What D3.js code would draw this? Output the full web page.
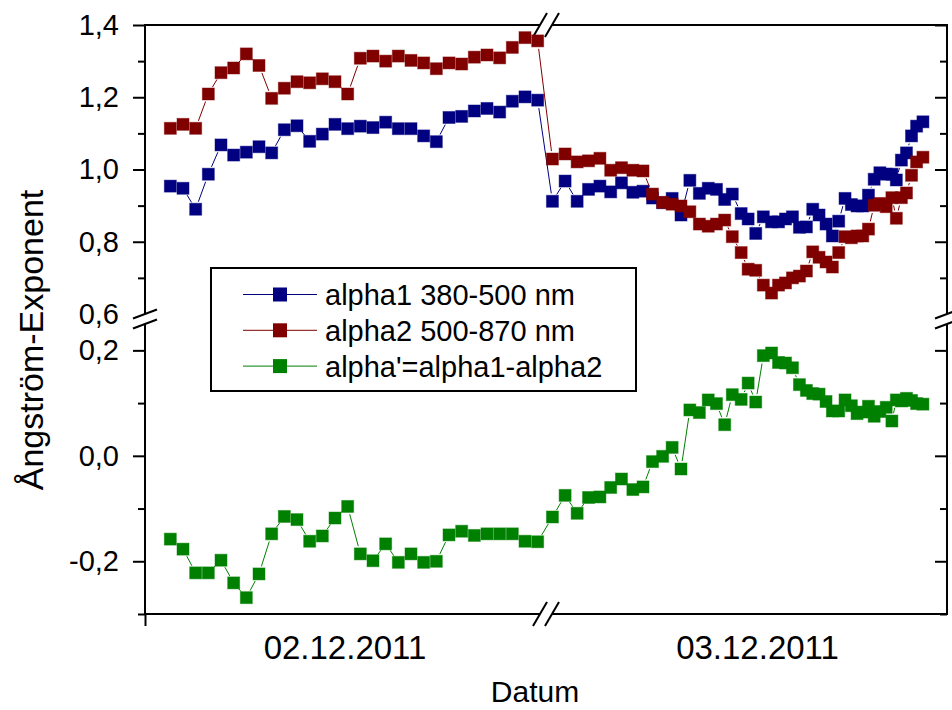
<!DOCTYPE html>
<html>
<head>
<meta charset="utf-8">
<script src="https://cdn.jsdelivr.net/npm/d3@7"></script>
<style>
  body { margin: 0; background: #fff; }
  text { font-family: "Liberation Sans", Arial, sans-serif; fill: #000; }
</style>
</head>
<body>
<svg id="chart" width="952" height="710"></svg>
<script>
// ---- data -------------------------------------------------------------
const dayLabels = ["02.12.2011", "03.12.2011"];
const legendLabels = ["alpha1 380-500 nm", "alpha2 500-870 nm", "alpha'=alpha1-alpha2"];
const xTitle = "Datum";
const yTitle = "Ångström-Exponent";

// measurement times (UTC, H:MM)
const timesDay1 = ["7:25","7:45","8:05","8:25","8:45","9:05","9:25","9:45","10:05","10:25",
  "10:45","11:05","11:25","11:45","12:05","12:25","12:45","13:05","13:25","13:45",
  "14:05","14:25","14:45","15:05","15:25","15:45","16:05","16:25","16:45","17:05"];
const timesDay2 = ["6:37","6:57","7:16","7:34","7:52","8:09","8:26","8:44","9:00","9:15",
  "9:31","9:46","10:00","10:14","10:29","10:43","10:56","11:09","11:21","11:35",
  "11:46","11:58","12:10","12:23","12:34","12:45","12:56","13:07","13:18","13:28",
  "13:38","13:49","13:59","14:09","14:19","14:29","14:38","14:47","14:56","15:05",
  "15:14","15:24","15:33","15:40","15:48","15:56","16:04","16:12","16:22"];

const alpha1Day1 = [0.954,0.948,0.890,0.987,1.068,1.040,1.048,1.063,1.046,1.110,
  1.121,1.078,1.098,1.125,1.113,1.120,1.116,1.131,1.113,1.113,
  1.093,1.077,1.144,1.147,1.162,1.169,1.159,1.189,1.201,1.192];
const alpha2Day1 = [1.114,1.125,1.114,1.209,1.268,1.281,1.320,1.288,1.197,1.225,
  1.243,1.240,1.251,1.243,1.209,1.308,1.314,1.300,1.314,1.302,
  1.295,1.279,1.295,1.292,1.311,1.317,1.309,1.338,1.365,1.356];
const alphaDiffDay1 = [-0.158,-0.177,-0.222,-0.222,-0.198,-0.241,-0.269,-0.224,-0.148,-0.115,
  -0.121,-0.162,-0.152,-0.118,-0.096,-0.186,-0.199,-0.167,-0.202,-0.186,
  -0.202,-0.200,-0.150,-0.143,-0.151,-0.148,-0.148,-0.148,-0.162,-0.163];

const alpha1Day2 = [0.912,0.968,0.912,0.945,0.954,0.938,0.963,0.937,0.940,0.921,
  0.908,0.920,0.874,0.970,0.934,0.948,0.945,0.917,0.932,0.878,
  0.863,0.823,0.869,0.855,0.855,0.863,0.869,0.840,0.841,0.890,
  0.874,0.849,0.816,0.857,0.920,0.903,0.899,0.899,0.929,0.973,
  0.991,0.987,0.987,0.971,1.026,1.046,1.093,1.120,1.132];
const alpha2Day2 = [1.029,1.043,1.021,1.024,1.031,0.998,1.005,0.998,0.996,0.932,
  0.909,0.904,0.899,0.883,0.849,0.843,0.849,0.860,0.814,0.770,
  0.724,0.721,0.680,0.658,0.680,0.686,0.700,0.705,0.719,0.772,
  0.757,0.744,0.730,0.770,0.814,0.811,0.816,0.816,0.835,0.901,
  0.906,0.897,0.922,0.865,0.922,0.935,0.984,1.021,1.034];
const alphaDiffDay2 = [-0.116,-0.075,-0.109,-0.079,-0.078,-0.060,-0.044,-0.064,-0.059,-0.011,
  -0.001,0.016,-0.025,0.087,0.082,0.106,0.099,0.059,0.116,0.107,
  0.138,0.102,0.190,0.195,0.177,0.176,0.167,0.135,0.124,0.118,
  0.117,0.103,0.085,0.085,0.106,0.095,0.080,0.083,0.094,0.075,
  0.084,0.092,0.066,0.106,0.104,0.109,0.105,0.099,0.098];

const upperMajorTicks = [0.6, 0.8, 1.0, 1.2, 1.4];
const upperMinorTicks = [0.7, 0.9, 1.1, 1.3];
const lowerMajorTicks = [-0.2, 0.0, 0.2];
const lowerMinorTicks = [-0.3, -0.1, 0.1];
const dayLabelHour = 12;

// ---- layout -------------------------------------------------------------
const svg = d3.select("#chart");
svg.append("rect").attr("width", 952).attr("height", 710).attr("fill", "#fff");

const parseHours = s => { const [h, m] = s.split(":").map(Number); return h + m / 60; };
const fmtTick = v => (v < 0 ? "-" : "") + Math.abs(v).toFixed(1).replace(".", ",");

// broken time axis: one linear piece per day
const xDay = [
  d3.scaleLinear().domain([6.75, 17.25]).range([145, 544]),
  d3.scaleLinear().domain([6.5, 17.0]).range([548, 947])
];
// broken value axis: upper piece for alpha1/alpha2, lower piece for the difference
const yUpper = d3.scaleLinear().domain([0.6, 1.4]).range([314, 25]);
const yLower = d3.scaleLinear().domain([-0.3, 0.25]).range([614, 324]);

const xLeft = xDay[0].range()[0], xRight = xDay[1].range()[1];
const yTop = yUpper.range()[1], yBottom = yLower.range()[0];
const AXIS_W = 2;

// ---- axes ---------------------------------------------------------------
function styleAxis(g) {
  g.select(".domain").remove();
  g.selectAll(".tick line").attr("stroke", "#000").attr("stroke-width", AXIS_W);
  g.selectAll(".tick text").style("font-size", "29px").attr("fill", "#000");
}

[[yUpper, upperMajorTicks, upperMinorTicks], [yLower, lowerMajorTicks, lowerMinorTicks]]
  .forEach(([sc, majors, minors]) => {
    svg.append("g").attr("transform", `translate(${xLeft},0)`)
      .call(d3.axisLeft(sc).tickValues(majors).tickSize(12).tickPadding(14).tickFormat(fmtTick))
      .call(styleAxis)
      .selectAll(".tick").filter(d => d === 0.6).select("line").remove();
    svg.append("g").attr("transform", `translate(${xLeft},0)`)
      .call(d3.axisLeft(sc).tickValues(minors).tickSize(7).tickFormat(""))
      .call(styleAxis);
    // inward ticks on the right frame
    svg.append("g").attr("transform", `translate(${xRight},0)`)
      .call(d3.axisRight(sc).tickValues(majors.filter(v => v !== 0.6)).tickSize(-12).tickFormat(""))
      .call(styleAxis);
    svg.append("g").attr("transform", `translate(${xRight},0)`)
      .call(d3.axisRight(sc).tickValues(minors).tickSize(-7).tickFormat(""))
      .call(styleAxis);
  });

// bottom axis: start tick and one date label per day
svg.append("g").attr("transform", `translate(0,${yBottom})`)
  .call(d3.axisBottom(xDay[0]).tickValues([xDay[0].domain()[0]]).tickSize(12).tickFormat(""))
  .call(styleAxis);
xDay.forEach((sc, d) => {
  svg.append("g").attr("transform", `translate(0,${yBottom})`)
    .call(d3.axisBottom(sc).tickValues([dayLabelHour]).tickSize(0).tickPadding(22)
      .tickFormat(() => dayLabels[d]))
    .call(styleAxis)
    .selectAll(".tick text").style("font-size", "33px");
});

// frame lines with breaks
const frame = svg.append("g").attr("stroke", "#000").attr("stroke-width", AXIS_W).attr("fill", "none");
const xBreakA = xDay[0].range()[1] - 4, xBreakB = xDay[1].range()[0] + 4;
const yBreakA = yUpper.range()[0], yBreakB = yLower.range()[1];
[yTop, yBottom].forEach(y => {
  frame.append("line").attr("x1", xLeft).attr("x2", xBreakA).attr("y1", y).attr("y2", y);
  frame.append("line").attr("x1", xBreakB).attr("x2", xRight).attr("y1", y).attr("y2", y);
  [xBreakA, xBreakB].forEach(x => frame.append("line")
    .attr("x1", x - 7).attr("y1", y + 12).attr("x2", x + 7).attr("y2", y - 12));
});
[xLeft, xRight].forEach(x => {
  frame.append("line").attr("x1", x).attr("x2", x).attr("y1", yTop - 1).attr("y2", yBreakA);
  frame.append("line").attr("x1", x).attr("x2", x).attr("y1", yBreakB).attr("y2", yBottom + 1);
  [yBreakA, yBreakB].forEach(y => frame.append("line")
    .attr("x1", x - 12).attr("y1", y + 4.5).attr("x2", x + 12).attr("y2", y - 4.5));
});

// axis titles
svg.append("text").attr("x", (xLeft + xRight) / 2 - 11).attr("y", 702)
  .attr("text-anchor", "middle").style("font-size", "30px").text(xTitle);
svg.append("text").attr("transform", "translate(43,340) rotate(-90)")
  .attr("text-anchor", "middle").style("font-size", "34px").text(yTitle);

// ---- series -------------------------------------------------------------
const times = [timesDay1, timesDay2];
const series = [
  { label: legendLabels[0], color: "#000080", y: yUpper, values: [alpha1Day1, alpha1Day2] },
  { label: legendLabels[1], color: "#800000", y: yUpper, values: [alpha2Day1, alpha2Day2] },
  { label: legendLabels[2], color: "#008000", y: yLower, values: [alphaDiffDay1, alphaDiffDay2] }
];
const MARK = 12, GAP = 8;

series.forEach(s => {
  const pts = [];
  times.forEach((ts, d) => ts.forEach((t, i) =>
    pts.push({ x: xDay[d](parseHours(t)), y: s.y(s.values[d][i]) })));
  const g = svg.append("g");
  // connecting lines stop short of the symbols
  const segs = d3.pairs(pts).map(([p, q]) => {
    const dx = q.x - p.x, dy = q.y - p.y, len = Math.hypot(dx, dy);
    return len > 2 * GAP ? { p, q, ux: dx / len, uy: dy / len } : null;
  }).filter(Boolean);
  g.selectAll("line").data(segs).join("line")
    .attr("x1", d => d.p.x + d.ux * GAP).attr("y1", d => d.p.y + d.uy * GAP)
    .attr("x2", d => d.q.x - d.ux * GAP).attr("y2", d => d.q.y - d.uy * GAP)
    .attr("stroke", s.color).attr("stroke-width", 1);
  g.selectAll("rect").data(pts).join("rect")
    .attr("x", d => d.x - MARK / 2).attr("y", d => d.y - MARK / 2)
    .attr("width", MARK).attr("height", MARK)
    .attr("fill", s.color).attr("stroke", s.color).attr("stroke-opacity", 0.45).attr("stroke-width", 1);
});

// ---- legend -------------------------------------------------------------
const legend = svg.append("g").attr("transform", "translate(211,268)");
legend.append("rect").attr("width", 425).attr("height", 123)
  .attr("fill", "#fff").attr("stroke", "#000").attr("stroke-width", AXIS_W);
series.forEach((s, i) => {
  const cy = 26.5 + i * 35.8;
  legend.append("line").attr("x1", 32).attr("x2", 106).attr("y1", cy).attr("y2", cy)
    .attr("stroke", s.color).attr("stroke-width", 1);
  legend.append("rect").attr("x", 69 - 7).attr("y", cy - 7).attr("width", 14).attr("height", 14)
    .attr("fill", s.color);
  legend.append("text").attr("x", 114).attr("y", cy + 10.5).style("font-size", "29px").text(s.label);
});
</script>
</body>
</html>
